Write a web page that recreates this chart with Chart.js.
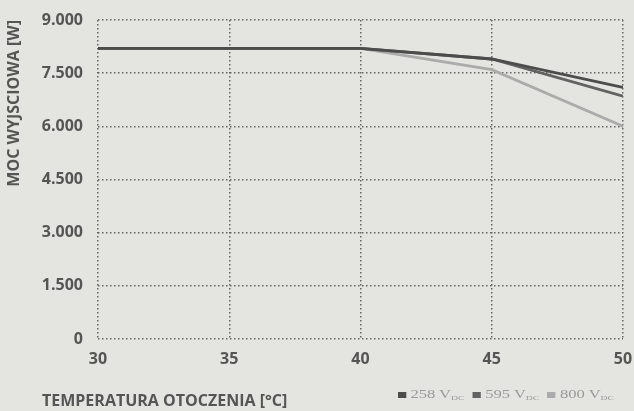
<!DOCTYPE html>
<html>
<head>
<meta charset="utf-8">
<script src="https://cdn.jsdelivr.net/npm/chart.js@4/dist/chart.umd.min.js"></script>
<style>
  html, body { margin: 0; padding: 0; }
  body { width: 634px; height: 411px; background: #e4e4e1; position: relative; overflow: hidden; }
  #wrap { position: absolute; left: 0; top: 0; width: 634px; height: 411px; }
  #xtitle { position: absolute; left: 42px; top: 389px; font: bold 16px/22px "Open Sans", sans-serif; color: #555; white-space: nowrap; }
  #legend { position: absolute; left: 398px; top: 386px; font: 12px/16px "Liberation Serif", serif; color: #9a9a9a; white-space: nowrap; transform: scaleX(1.38); transform-origin: 0 50%; }
  #legend span.item { margin-right: 6px; }
  #legend i { display: inline-block; width: 6px; height: 6px; margin-right: 3px; vertical-align: 0px; }
  #legend sub { font-size: 7px; vertical-align: -2px; }
</style>
</head>
<body>
<div id="wrap"><canvas id="c" width="634" height="411"></canvas></div>
<div id="xtitle">TEMPERATURA OTOCZENIA [°C]</div>
<div id="legend"></div>
<script>
// Ambient temperature (°C)
const temperatures = [30, 35, 40, 45, 50];
// Output power (W) for each DC input voltage
const power258 = [8200, 8200, 8200, 7900, 7100];
const power595 = [8200, 8200, 8200, 7900, 6850];
const power800 = [8200, 8200, 8200, 7600, 6000];
const seriesNames = ['258', '595', '800'];
const seriesColors = ['#4c4c4c', '#626262', '#ababab'];
const yTicks = [0, 1500, 3000, 4500, 6000, 7500, 9000];

const toPoints = vals => temperatures.map((t, i) => ({ x: t, y: vals[i] }));
const seriesValues = [power258, power595, power800];

const datasets = seriesValues.map((vals, i) => ({
  label: seriesNames[i] + ' V DC',
  data: toPoints(vals),
  borderColor: seriesColors[i],
  backgroundColor: seriesColors[i],
  borderWidth: 2.8,
  pointRadius: 0,
  tension: 0,
  order: i === 2 ? 3 : i
}));

// Legend with subscripted "DC"
document.getElementById('legend').innerHTML = seriesNames.map((n, i) =>
  `<span class="item"><i style="background:${seriesColors[i]}"></i>${n} V<sub>DC</sub></span>`
).join('');

const fmt = v => String(v).replace(/\B(?=(\d{3})+(?!\d))/g, '.');
const gridStyle = { color: '#646464', lineWidth: 1.5, drawTicks: false };
const dottedBorder = { display: false, dash: [1.5, 2.5] };
const tickFont = { family: 'Open Sans', weight: 'bold', size: 16 };

new Chart(document.getElementById('c'), {
  type: 'line',
  data: { datasets },
  options: {
    responsive: false,
    animation: false,
    layout: { padding: { left: 0, right: 11, top: 20, bottom: 0 } },
    plugins: { legend: { display: false }, tooltip: { enabled: false } },
    scales: {
      x: {
        type: 'linear',
        min: 30, max: 50,
        afterBuildTicks: s => { s.ticks = temperatures.map(v => ({ value: v })); },
        afterFit: s => { s.height = 72; s.paddingRight = 0; s.paddingLeft = 0; },
        border: dottedBorder,
        grid: gridStyle,
        ticks: { padding: 11, color: '#555', font: tickFont }
      },
      y: {
        min: 0, max: 9000,
        afterBuildTicks: s => { s.ticks = yTicks.map(v => ({ value: v })); },
        afterFit: s => { s.width = 98; s.paddingTop = 0; s.paddingBottom = 0; },
        border: dottedBorder,
        grid: gridStyle,
        ticks: { padding: 15, color: '#555', font: tickFont, callback: v => fmt(v) },
        title: { display: true, text: 'MOC WYJSCIOWA [W]', align: 'end', color: '#555', padding: { top: 5 }, font: { family: 'Open Sans', weight: 'bold', size: 16 } }
      }
    }
  }
});
</script>
</body>
</html>
